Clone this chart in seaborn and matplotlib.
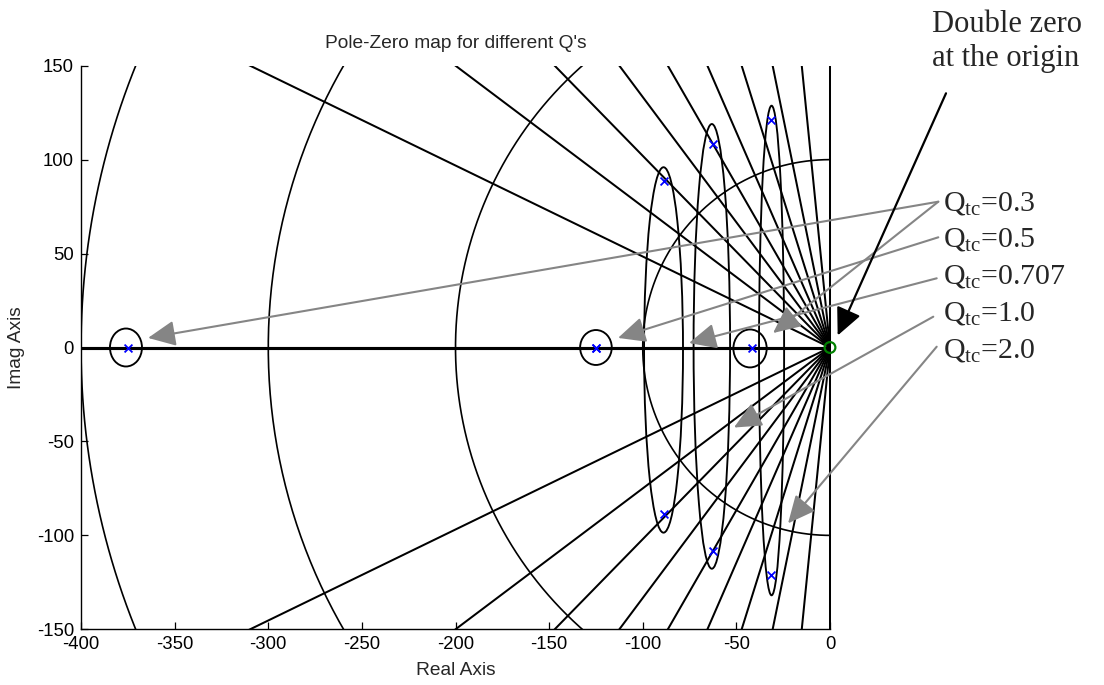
import numpy as np
import matplotlib
matplotlib.use("Agg")
import matplotlib.pyplot as plt
from matplotlib.patches import Ellipse, Rectangle
import seaborn as sns

# ---------------- data ----------------
ZETA = [0.0, 0.1, 0.2, 0.3, 0.4, 0.5, 0.6, 0.7, 0.8, 0.9, 1.0]   # sgrid damping lines
WN = [100, 200, 300, 400]                                          # sgrid natural-frequency circles

POLE_RE = [-375.0, -41.7, -125.0, -125.0, -88.4, -88.4, -62.5, -62.5, -31.3, -31.3]
POLE_IM = [0.0, 0.0, 0.0, 0.0, 88.4, -88.4, 108.3, -108.3, 121.0, -121.0]
ZERO_RE = [0.0]
ZERO_IM = [0.0]

# hand-drawn ellipses around the poles (centre x, centre y, width, height)
ELL_X = [-376.0, -125.0, -42.7, -88.9, -63.1, -31.2]
ELL_Y = [0.0, 0.0, -0.5, -1.3, 0.6, -1.6]
ELL_W = [17.1, 16.9, 17.8, 20.8, 19.5, 13.4]
ELL_H = [20.2, 18.6, 20.2, 194.5, 236.7, 260.6]

Q_LABELS = ["0.3", "0.5", "0.707", "1.0", "2.0"]
X_TICKS = [-400, -350, -300, -250, -200, -150, -100, -50, 0]
Y_TICKS = [-150, -100, -50, 0, 50, 100, 150]

# ---------------- style ----------------
sns.set_style("white")
plt.rcParams["font.family"] = ["Liberation Sans", "DejaVu Sans"]
plt.rcParams["axes.unicode_minus"] = False
plt.rcParams["mathtext.fontset"] = "custom"
plt.rcParams["mathtext.rm"] = "Liberation Serif"
plt.rcParams["mathtext.it"] = "Liberation Serif:italic"

W, H = 1104, 685
fig = plt.figure(figsize=(W / 100, H / 100), dpi=100)
ax = fig.add_axes([0.0734, 0.0813, 0.6784, 0.8228])

ax.set_xlim(-400, 0)
ax.set_ylim(-150, 150)

clip = Rectangle((0, 0), 1.004, 1.0, transform=ax.transAxes, facecolor="none", edgecolor="none")
ax.add_patch(clip)

# sgrid: damping lines
R = 2000.0
for z in ZETA:
    s = np.sqrt(1 - z ** 2)
    lw = 2.2 if z == 1.0 else 1.45
    for sign in (1, -1):
        ln, = ax.plot([0, -z * R], [0, sign * s * R], color="black", lw=lw, solid_capstyle="butt")
        ln.set_clip_path(clip)

# sgrid: wn circles
t = np.linspace(np.pi / 2, 3 * np.pi / 2, 400)
for w in WN:
    ln, = ax.plot(w * np.cos(t), w * np.sin(t), color="black", lw=1.2)
    ln.set_clip_path(clip)

# ellipses
for cx, cy, ew, eh in zip(ELL_X, ELL_Y, ELL_W, ELL_H):
    ax.add_patch(Ellipse((cx, cy), ew, eh, facecolor="none", edgecolor="black", lw=1.35))

# poles and zero
sns.scatterplot(x=POLE_RE, y=POLE_IM, marker="x", color="blue", s=32, linewidth=1.3, ax=ax, zorder=5)
sns.scatterplot(x=ZERO_RE, y=ZERO_IM, marker="o", color="#008000", facecolor="none",
                edgecolor="#008000", s=60, linewidth=1.6, ax=ax, zorder=6, clip_on=False)

# axes cosmetics (MATLAB-like)
ax.set_xticks(X_TICKS)
ax.set_yticks(Y_TICKS)
ax.tick_params(direction="in", length=5.3, width=0.9, pad=5, labelsize=13.3,
               top=False, right=False, bottom=True, left=True, colors="black")
for side in ("top", "right"):
    ax.spines[side].set_visible(False)
for side in ("left", "bottom"):
    ax.spines[side].set_color("black")
    ax.spines[side].set_linewidth(1.0)

ax.set_title("Pole-Zero map for different Q's", fontsize=13.8, pad=12.5)
ax.set_xlabel("Real Axis", fontsize=13.8)
ax.set_ylabel("Imag Axis", fontsize=13.8)
ax.xaxis.set_label_coords(0.5, -0.058)
ax.yaxis.set_label_coords(-0.0748, 0.5)

# ---------------- annotations ----------------
def figpx(x, y):
    return (x, H - y)

serif = ["Liberation Serif", "DejaVu Serif"]

fig.text(931.7 / W, 1 - 31.7 / H, "Double zero", family=serif, fontsize=22,
         ha="left", va="baseline")
fig.text(931.7 / W, 1 - 66.0 / H, "at the origin", family=serif, fontsize=22,
         ha="left", va="baseline")

q_baselines = [210.7, 246.7, 284.0, 320.7, 357.3]
for lab, yb in zip(Q_LABELS, q_baselines):
    fig.text(943.0 / W, 1 - yb / H, "Q$_{\\mathrm{tc}}$=" + lab, family=serif, fontsize=21.5,
             ha="left", va="baseline")

gray = "#858585"
arrows = [
    ((938.3, 201.7), (-364.2, 5.1)),
    ((938.3, 201.7), (-30.4, 7.7)),
    ((938.3, 237.3), (-113.2, 5.1)),
    ((936.7, 278.3), (-75.3, 2.4)),
    ((933.3, 316.7), (-51.3, -42.6)),
    ((936.7, 346.7), (-22.4, -93.6)),
]
for start, tip in arrows:
    ax.annotate("", xy=tip, xycoords="data", xytext=figpx(*start), textcoords="figure pixels",
                arrowprops=dict(arrowstyle="-|>,head_length=0.6,head_width=0.28", color=gray, lw=1.5,
                                mutation_scale=28, shrinkA=0, shrinkB=0),
                annotation_clip=False, zorder=7)

ax.annotate("", xy=(4.1, 6.4), xycoords="data", xytext=figpx(946.0, 93.3), textcoords="figure pixels",
            arrowprops=dict(arrowstyle="-|>,head_length=0.6,head_width=0.28", color="black", lw=1.6,
                            mutation_scale=28, shrinkA=0, shrinkB=0),
            annotation_clip=False, zorder=7)

fig.savefig("out.png", dpi=100, facecolor="white")
